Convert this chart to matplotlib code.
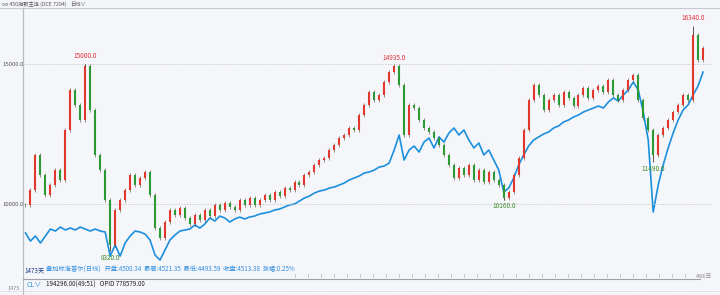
import matplotlib
matplotlib.use("Agg")
import matplotlib.pyplot as plt
from matplotlib.lines import Line2D

plt.rcParams["font.family"] = ["Noto Sans CJK SC", "DejaVu Sans"]

# closing prices of the 450 index main contract (sampled candles, oldest first)
closes = [
    9960, 10500, 11750, 11040, 10320, 10680, 11210, 10860, 12640, 14070,
    13540, 13000, 14930, 13360, 11750, 11210, 10140, 8540, 9790, 10140,
    10500, 11040, 10680, 10930, 11140, 10320, 9140, 8790, 9360, 9790,
    9610, 9860, 9500, 9290, 9610, 9430, 9790, 9570, 9960, 9790,
    10040, 9890, 9790, 10140, 9960, 10210, 9960, 10140, 10320, 10140,
    10430, 10290, 10570, 10500, 10790, 10680, 11040, 11140, 11390, 11570,
    11640, 11930, 12110, 12360, 12460, 12710, 12640, 13180, 13540, 14000,
    13710, 13890, 14360, 14710, 14930, 14250, 12460, 13540, 13430, 13000,
    12710, 12570, 12360, 12110, 11750, 11390, 10930, 11290, 11040, 11390,
    10860, 11210, 10790, 11140, 10860, 10680, 10210, 10430, 11040, 11640,
    12640, 13710, 14250, 13890, 13360, 13710, 13890, 13540, 14000, 13790,
    13500, 13890, 14140, 13790, 14070, 14210, 14000, 14430, 13890, 13710,
    14070, 14430, 14610, 13710, 13070, 12640, 11750, 12460, 12710, 13000,
    13290, 13540, 13890, 13710, 16040, 15140, 15570,
]

# S&P 500 daily overlay, sampled at the same candles
spx = [
    2215, 2100, 2172, 2072, 2172, 2272, 2243, 2300, 2258, 2286,
    2258, 2300, 2272, 2243, 2272, 2243, 2229, 1886, 2043, 1886,
    2072, 2172, 2243, 2229, 2200, 2115, 1901, 1829, 1972, 2115,
    2186, 2243, 2258, 2272, 2329, 2286, 2343, 2429, 2386, 2457,
    2429, 2372, 2415, 2443, 2415, 2443, 2457, 2486, 2500, 2515,
    2543, 2557, 2586, 2615, 2629, 2672, 2715, 2743, 2786, 2814,
    2829, 2857, 2872, 2900, 2929, 2972, 3000, 3029, 3072, 3086,
    3114, 3157, 3171, 3214, 3400, 3614, 3257, 3400, 3457, 3371,
    3514, 3571, 3429, 3586, 3514, 3643, 3714, 3614, 3686, 3543,
    3429, 3500, 3329, 3400, 3257, 3114, 2800, 2857, 3000, 3186,
    3329, 3457, 3543, 3586, 3629, 3657, 3714, 3743, 3800, 3828,
    3871, 3900, 3943, 3971, 4000, 4028, 4000, 4085, 4143, 4100,
    4185, 4257, 4371, 4257, 3943, 3543, 2515, 2900, 3186, 3429,
    3643, 3828, 3971, 4043, 4185, 4314, 4513,
]

# marked extremes: candle index, price, is_high
mark_idx = [12, 74, 134, 17, 96, 126]
mark_val = [15000, 14935, 16340, 8320, 10160, 11490]
mark_high = [True, True, True, False, False, False]

ytick_vals = [15000, 10000]

info_left = "1473天"
info_text = "叠加标准普尔(日线)   开盘:4500.34  最高:4521.35  最低:4493.59  收盘:4513.38  涨幅:0.25%"
cl_text = "194296.00(49:51)   OPID 778579.00"
header = "oo 450指数主连 (DCE 7294)"

bg = "#f5f6fa"
up_col = "#e2372c"
dn_col = "#2b9a34"
blue = "#1c8fdc"

fig = plt.figure(figsize=(7.2, 2.95), dpi=100, facecolor=bg)
ax = fig.add_axes([23 / 720, 1 - 265 / 295, 689 / 720, 257 / 295])
ax2 = ax.twinx()

# overlay line
xs = list(range(len(spx)))
ax2.plot(xs, spx, color=blue, linewidth=1.2, zorder=2)
ax2.set_ylim(1758, 5428)
ax2.axis("off")

# candles
ax.set_zorder(ax2.get_zorder() + 1)
ax.patch.set_visible(False)
prev = closes[0]
for i, c in enumerate(closes):
    o = prev
    col = up_col if c >= o else dn_col
    lo, hi = min(o, c), max(o, c)
    ax.vlines(i, lo - 60, hi + 60, color="#4a3a2a", linewidth=0.5, alpha=0.8, zorder=3)
    ax.vlines(i, lo, hi + 1, color=col, linewidth=1.5, zorder=4)
    prev = c

for i, v, h in zip(mark_idx, mark_val, mark_high):
    body = closes[i]
    ax.vlines(i, min(body, v), max(body, v), color="#4a3a2a", linewidth=0.6, zorder=4)
    if h:
        ax.annotate(f"{v:.1f}", (i, v), xytext=(0, 3), textcoords="offset points",
                    ha="center", va="bottom", fontsize=4.6, color="#e0303a")
    else:
        ax.annotate(f"{v:.1f}", (i, v), xytext=(0, -2), textcoords="offset points",
                    ha="center", va="top", fontsize=4.6, color="#3a8a2a")

for v in ytick_vals:
    ax.axhline(v, color="#c9c9cf", linewidth=0.7, linestyle=(0, (1.5, 1.5)), zorder=1)
    ax.text(-21 / 689, v, f"{v:.1f}", transform=ax.get_yaxis_transform(), ha="left",
            va="center", fontsize=4.3, color="#555555")

ax.set_xlim(-0.5, 137.8)
ax.set_ylim(7822, 17000)
ax.set_xticks([])
ax.set_yticks([])
for s in ["top", "right", "bottom"]:
    ax.spines[s].set_visible(False)
ax.spines["left"].set_color("#b8b8c0")
ax.spines["left"].set_linewidth(0.8)

# header bar and separators
fig.add_artist(Line2D([0, 1], [1 - 8 / 295] * 2, color="#c8c8d0", linewidth=0.8))
fig.add_artist(Line2D([23 / 720] * 2, [0, 1 - 8 / 295], color="#b8b8c0", linewidth=0.8))
fig.text(2 / 720, 1 - 4 / 295, header, fontsize=3.8, color="#555555", va="center")
fig.text(70 / 720, 1 - 4 / 295, "日线∨", fontsize=3.8, color="#555555", va="center")

# lower info strip
fig.text(24 / 720, 1 - 270 / 295, info_left, fontsize=4.5, color="#1a3a8a", va="center")
fig.text(46 / 720, 1 - 270 / 295, info_text, fontsize=4.5, color="#2f8fe0", va="center")
fig.add_artist(Line2D([23 / 720, 700 / 720], [1 - 279 / 295] * 2, color="#a0a0a8", linewidth=0.8))
for k in range(31):
    xp = (295 + 13 * k) / 720
    if xp < 688 / 720:
        fig.add_artist(Line2D([xp, xp], [1 - 277 / 295, 1 - 274 / 295], color="#b0b0b8", linewidth=0.5))
fig.text(712 / 720, 1 - 276 / 295, "450|日", fontsize=4.0, color="#888888", va="center", ha="right")
fig.text(27 / 720, 1 - 285 / 295, "CL∨", fontsize=5, color="#2f8fe0", va="center")
fig.text(46 / 720, 1 - 285 / 295, cl_text, fontsize=4.5, color="#222222", va="center")
fig.text(8 / 720, 1 - 288 / 295, "1475", fontsize=4.0, color="#888888", va="center")
fig.add_artist(Line2D([0, 1], [1 - 291 / 295] * 2, color="#c8c8d0", linewidth=0.6,
                      linestyle=(0, (1.5, 1.5))))

fig.savefig("out.png", dpi=100, facecolor=bg)
